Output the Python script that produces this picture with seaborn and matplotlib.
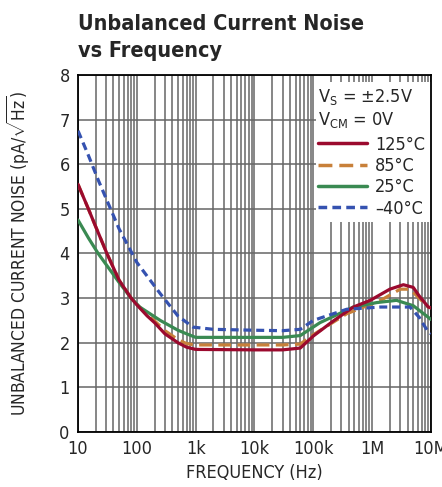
import numpy as np
import pandas as pd
import matplotlib
matplotlib.use('Agg')
import matplotlib.pyplot as plt
import seaborn as sns
from matplotlib.patches import Rectangle
from matplotlib.ticker import LogLocator, NullFormatter

# data
freq_125 = [10, 15, 20, 31, 50, 80, 100, 150, 200, 300, 500, 700, 1e3, 1e4, 3e4, 6e4, 1e5, 2.15e5, 4.8e5, 9.3e5, 2e6, 3.4e6, 5e6, 6.3e6, 9e6, 1e7]
noise_125 = [5.55, 5.0, 4.6, 4.0, 3.4, 3.0, 2.85, 2.6, 2.45, 2.2, 2.0, 1.9, 1.85, 1.84, 1.84, 1.88, 2.15, 2.48, 2.8, 2.95, 3.2, 3.3, 3.24, 3.05, 2.8, 2.78]

freq_85 = [10, 15, 20, 31, 50, 80, 100, 150, 200, 300, 500, 700, 1e3, 1e4, 3e4, 6e4, 1e5, 3.7e5, 1.4e6, 3e6, 4.4e6, 6.3e6, 9e6, 1e7]
noise_85 = [5.55, 5.0, 4.6, 4.0, 3.4, 3.0, 2.86, 2.63, 2.49, 2.27, 2.07, 1.98, 1.95, 1.95, 1.95, 1.97, 2.18, 2.65, 2.95, 3.2, 3.2, 3.0, 2.8, 2.78]

freq_25 = [10, 15, 22, 50, 80, 112, 250, 500, 700, 1e3, 1e4, 3e4, 6e4, 1.3e5, 4.8e5, 1.2e6, 2.6e6, 5e6, 9e6, 1e7]
noise_25 = [4.75, 4.35, 4.0, 3.35, 3.0, 2.8, 2.5, 2.28, 2.2, 2.12, 2.12, 2.12, 2.16, 2.45, 2.8, 2.9, 2.95, 2.83, 2.57, 2.52]

freq_m40 = [10, 15, 22, 50, 100, 250, 500, 900, 2e3, 1e4, 3e4, 6e4, 1e5, 3.7e5, 1.4e6, 4.4e6, 6.3e6, 8.7e6, 1e7]
noise_m40 = [6.75, 6.2, 5.65, 4.55, 3.8, 3.1, 2.6, 2.35, 2.3, 2.28, 2.27, 2.3, 2.5, 2.75, 2.8, 2.8, 2.57, 2.27, 2.2]

labels = ['125°C', '85°C', '25°C', '–40°C']
colors = ['#9b0a2e', '#c8803a', '#3a8a52', '#3552b0']
tick_vals = [10, 100, 1e3, 1e4, 1e5, 1e6, 1e7]
tick_labels = ['10', '100', '1k', '10k', '100k', '1M', '10M']

frames = []
for lab, f, n in zip(labels, [freq_125, freq_85, freq_25, freq_m40],
                     [noise_125, noise_85, noise_25, noise_m40]):
    frames.append(pd.DataFrame({'freq': f, 'noise': n, 'temp': lab}))
df = pd.concat(frames, ignore_index=True)

sns.set_style('white')
plt.rcParams['font.family'] = ['DejaVu Sans']
plt.rcParams['font.stretch'] = 'condensed'
plt.rcParams['mathtext.fontset'] = 'custom'
plt.rcParams['mathtext.rm'] = 'DejaVu Sans:stretch=condensed'

fig = plt.figure(figsize=(4.42, 4.87), dpi=100)
ax = fig.add_axes([0.1765, 0.113, 0.7985, 0.733])
ax.set_axisbelow(True)

sns.lineplot(data=df, x='freq', y='noise', hue='temp', style='temp',
             palette=dict(zip(labels, colors)),
             dashes={'125°C': '', '85°C': (4, 2), '25°C': '', '–40°C': (2.5, 1.5)},
             hue_order=labels, style_order=labels, linewidth=2.3, ax=ax)
# red on top of orange/green, blue dashes on top of all
for line, z in zip(ax.lines[:4], [4, 3, 3.5, 5]):
    line.set_zorder(z)

ax.set_xscale('log')
ax.set_xlim(10, 1e7)
ax.set_ylim(0, 8)
ax.set_xticks(tick_vals)
ax.set_xticklabels(tick_labels)
ax.xaxis.set_minor_locator(LogLocator(base=10, subs=np.arange(2, 10), numticks=100))
ax.xaxis.set_minor_formatter(NullFormatter())
ax.set_yticks(range(0, 9))
ax.tick_params(axis='both', which='both', length=0, labelsize=13, pad=6)
ax.grid(True, which='both', axis='x', color='#666666', linewidth=1.1)
ax.grid(True, which='major', axis='y', color='#666666', linewidth=1.1)
for s in ax.spines.values():
    s.set_color('black')
    s.set_linewidth(1.3)

ax.set_xlabel('FREQUENCY (Hz)', fontsize=13)
ax.set_ylabel(r'UNBALANCED CURRENT NOISE (pA/$\sqrt{\mathrm{Hz}}$)', fontsize=12.5,
              labelpad=20)

# white box behind legend
ax.add_patch(Rectangle((0.674, 0.588), 0.326, 0.392, transform=ax.transAxes,
                       facecolor='white', edgecolor='none', zorder=1.5))
ax.text(0.68, 0.966, r'V$_\mathrm{S}$ = ±2.5V', transform=ax.transAxes,
        fontsize=13, va='top', ha='left', zorder=6)
ax.text(0.68, 0.901, r'V$_\mathrm{CM}$ = 0V', transform=ax.transAxes,
        fontsize=13, va='top', ha='left', zorder=6)

leg = ax.legend(loc='upper left', bbox_to_anchor=(0.655, 0.855), frameon=False,
                fontsize=13, handlelength=2.7, handletextpad=0.45,
                labelspacing=0.18, borderpad=0)
leg.set_zorder(6)
for line in leg.get_lines():
    line.set_linewidth(2.5)

fig.text(0.1765, 0.972, 'Unbalanced Current Noise\nvs Frequency', fontsize=15.5,
         fontweight='bold', va='top', ha='left', linespacing=1.45)

fig.savefig('out.png', dpi=100)
